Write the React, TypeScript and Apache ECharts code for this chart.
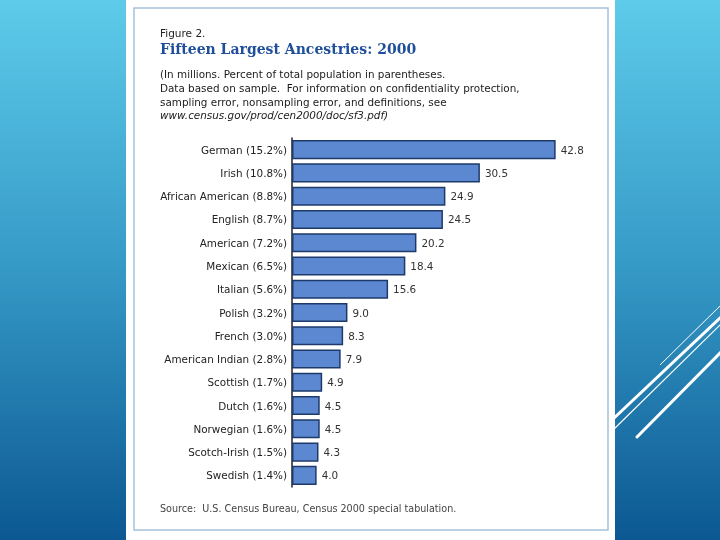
import React, { useEffect, useRef } from "react";
import * as echarts from "echarts";

const categories = [
  "German (15.2%)",
  "Irish (10.8%)",
  "African American (8.8%)",
  "English (8.7%)",
  "American (7.2%)",
  "Mexican (6.5%)",
  "Italian (5.6%)",
  "Polish (3.2%)",
  "French (3.0%)",
  "American Indian (2.8%)",
  "Scottish (1.7%)",
  "Dutch (1.6%)",
  "Norwegian (1.6%)",
  "Scotch-Irish (1.5%)",
  "Swedish (1.4%)",
];
const values = [42.8, 30.5, 24.9, 24.5, 20.2, 18.4, 15.6, 9.0, 8.3, 7.9, 4.9, 4.5, 4.5, 4.3, 4.0];

const figureLabel = "Figure 2.";
const titleText = "Fifteen Largest Ancestries: 2000";
const noteLines = [
  "(In millions. Percent of total population in parentheses.",
  "Data based on sample.  For information on confidentiality protection,",
  "sampling error, nonsampling error, and definitions, see",
];
const noteLink = "www.census.gov/prod/cen2000/doc/sf3.pdf)";
const sourceText = "Source:  U.S. Census Bureau, Census 2000 special tabulation.";

const SANS = '"DejaVu Sans", Verdana, sans-serif';

export default function App() {
  const ref = useRef<HTMLDivElement>(null);
  useEffect(() => {
    if (!ref.current) return;
    const chart = echarts.init(ref.current, undefined, { renderer: "svg" });
    const white = "#ffffff";
    const graphic: any[] = [
      {
        type: "rect",
        z: -10,
        shape: { x: 0, y: 0, width: 720, height: 540 },
        style: {
          fill: new echarts.graphic.LinearGradient(0, 0, 0, 1, [
            { offset: 0, color: "#5ecbea" },
            { offset: 0.5, color: "#3599c6" },
            { offset: 1, color: "#0c5892" },
          ]),
        },
      },
      { type: "line", z: -9, shape: { x1: 660, y1: 365, x2: 721, y2: 305 }, style: { stroke: white, lineWidth: 1 } },
      { type: "line", z: -9, shape: { x1: 612, y1: 420, x2: 721, y2: 317 }, style: { stroke: white, lineWidth: 3 } },
      { type: "line", z: -9, shape: { x1: 612, y1: 431, x2: 721, y2: 324 }, style: { stroke: white, lineWidth: 1.2 } },
      { type: "line", z: -9, shape: { x1: 637, y1: 437, x2: 721, y2: 352 }, style: { stroke: white, lineWidth: 3, lineCap: "round" } },
      {
        type: "rect",
        z: -8,
        shape: { x: 126, y: 0, width: 489, height: 540 },
        style: { fill: white },
      },
      {
        type: "rect",
        z: -7,
        shape: { x: 134, y: 8, width: 474, height: 522 },
        style: { fill: "none", stroke: "#a5c1d9", lineWidth: 1.5 },
      },
      {
        type: "text",
        x: 160,
        y: 33,
        style: { text: figureLabel, fill: "#222", font: `10.5px ${SANS}`, verticalAlign: "middle" },
      },
      {
        type: "text",
        x: 160,
        y: 49,
        style: {
          text: titleText,
          fill: "#1f4e9b",
          font: 'bold 14px "DejaVu Serif", Georgia, serif',
          verticalAlign: "middle",
        },
      },
      ...noteLines.map((t, i) => ({
        type: "text",
        x: 160,
        y: 74 + i * 13.8,
        style: { text: t, fill: "#1a1a1a", font: `10.4px ${SANS}`, verticalAlign: "middle" },
      })),
      {
        type: "text",
        x: 160,
        y: 74 + 3 * 13.8,
        style: { text: noteLink, fill: "#1a1a1a", font: `italic 10.4px ${SANS}`, verticalAlign: "middle" },
      },
      {
        type: "text",
        x: 160,
        y: 508,
        style: { text: sourceText, fill: "#444", font: `9.6px ${SANS}`, verticalAlign: "middle" },
      },
    ];

    chart.setOption({
      animation: false,
      backgroundColor: "transparent",
      graphic,
      grid: { left: 292, right: 120, top: 138, height: 349 },
      xAxis: {
        type: "value",
        min: 0,
        max: 50,
        show: false,
      },
      yAxis: {
        type: "category",
        inverse: true,
        data: categories,
        axisTick: { show: false },
        axisLine: { show: true, lineStyle: { color: "#222", width: 1.5 } },
        axisLabel: { fontSize: 10.4, color: "#222", fontFamily: SANS, margin: 5 },
      },
      series: [
        {
          type: "bar",
          data: values,
          barCategoryGap: "18%",
          itemStyle: { color: "#5b88d0", borderColor: "#1e3a6a", borderWidth: 1.5 },
          label: {
            show: true,
            position: "right",
            distance: 5,
            fontSize: 10.4,
            color: "#333",
            fontFamily: SANS,
            formatter: (p: any) => Number(p.value).toFixed(1),
          },
        },
      ],
    });
    return () => chart.dispose();
  }, []);
  return (
    <div
      ref={ref}
      style={{ position: "fixed", left: 0, top: 0, width: 720, height: 540 }}
    />
  );
}
